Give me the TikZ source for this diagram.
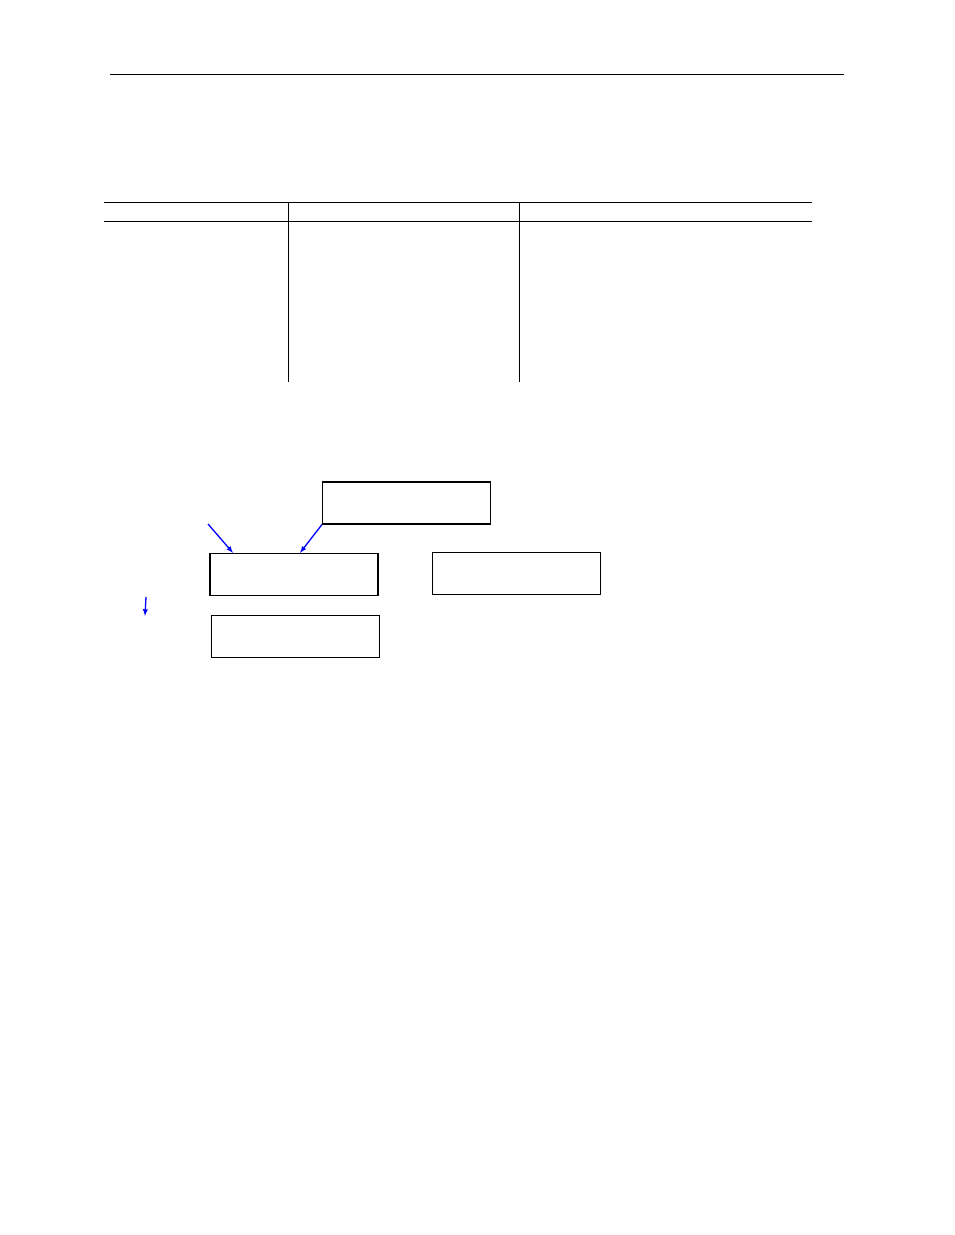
\documentclass[tikz,border=0pt]{standalone}
\usepackage{tikz}
\usetikzlibrary{positioning}
\begin{document}
\begin{tikzpicture}[x=1pt,y=-1pt]
\tikzstyle{box}=[
	draw,
	line width=1.2pt,
	minimum width=168pt,
	minimum height=42pt,
	inner sep=0pt ]
\tikzstyle{link}=[->, >=latex, blue, line width=1.3pt]
\tikzstyle{rule}=[line width=0.8pt]
\useasboundingbox (0,0) rectangle (954,1235);
% page rule
\draw[rule] (110,74) -- (844,74);
% table
\draw[rule] (104,202) -- (812,202);
\draw[rule] (104,221) -- (812,221);
\draw[rule] (288,202) -- (288,382);
\draw[rule] (519,202) -- (519,382);
% boxes
\node[box] (upper) at (406.5,503) {};
\node[box] (mid) at (294,574.5) {};
\node[box, right=53pt of mid, yshift=1pt] (aside) {};
\node[box, below=19pt of mid, xshift=1.5pt] (lower) {};
% arrows
\coordinate (src) at (208,524);
\coordinate (dropa) at (146,597);
\coordinate (dropb) at (145,616);
\draw[link] (src) -- ([xshift=-61pt]mid.north);
\draw[link] (upper.south west) -- ([xshift=6pt]mid.north);
\draw[link] (dropa) -- (dropb);
\end{tikzpicture}
\end{document}
